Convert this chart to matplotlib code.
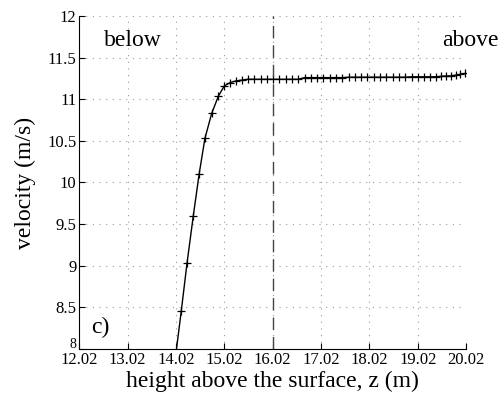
import matplotlib
matplotlib.use("Agg")
import matplotlib.pyplot as plt
import matplotlib.transforms as mtransforms

plt.rcParams['font.family'] = ['Liberation Serif', 'DejaVu Serif']

# height above the surface (m) and velocity (m/s)
z = [14.00, 14.13, 14.25, 14.38, 14.50, 14.62, 14.76, 14.90, 15.02, 15.14,
     15.26, 15.38, 15.51, 15.64, 15.77, 15.90, 16.03, 16.16, 16.29, 16.42,
     16.55, 16.68, 16.81, 16.94, 17.07, 17.20, 17.33, 17.46, 17.59, 17.72,
     17.85, 17.98, 18.11, 18.24, 18.37, 18.50, 18.63, 18.76, 18.89, 19.02,
     19.15, 19.28, 19.40, 19.50, 19.60, 19.70, 19.80, 19.90, 20.00]
vel = [7.85, 8.45, 9.03, 9.60, 10.10, 10.53, 10.83, 11.04, 11.16, 11.20,
       11.22, 11.23, 11.24, 11.24, 11.24, 11.24, 11.24, 11.24, 11.24, 11.24,
       11.24, 11.26, 11.26, 11.26, 11.26, 11.26, 11.26, 11.26, 11.265, 11.265,
       11.265, 11.265, 11.265, 11.265, 11.265, 11.265, 11.265, 11.265, 11.27, 11.27,
       11.27, 11.27, 11.27, 11.275, 11.28, 11.28, 11.29, 11.30, 11.31]

z_surface = 16.02
xticks = [12.02, 13.02, 14.02, 15.02, 16.02, 17.02, 18.02, 19.02, 20.02]
yticks = [8, 8.5, 9, 9.5, 10, 10.5, 11, 11.5, 12]

fig = plt.figure(figsize=(5.04, 4.01), dpi=100)
ax = fig.add_axes([0.157, 0.130, 0.768, 0.830])

ax.plot(z, vel, 'k-', linewidth=1.0, marker='+', markersize=6, markeredgewidth=0.9)
ax.axvline(z_surface, color='#444444', linewidth=1.0, linestyle=(0, (9, 5)))

ax.set_xlim(12.02, 20.02)
ax.set_ylim(8, 12)
ax.set_xticks(xticks)
ax.set_xticklabels(['%.2f' % t for t in xticks])
ax.set_yticks(yticks)
ax.set_yticklabels(['%g' % t for t in yticks])
ax.tick_params(direction='in', length=4, width=0.8, labelsize=12, pad=2)
ax.tick_params(axis='x', pad=2)
ax.grid(True, linestyle=(0, (1, 5)), color='#999999', linewidth=0.8)

# the lowest y label is smaller and sits higher, clear of the x labels
lab8 = ax.get_yticklabels()[0]
lab8.set_fontsize(10)
lab8.set_transform(lab8.get_transform() +
                   mtransforms.ScaledTranslation(0, 4 / 72, fig.dpi_scale_trans))

ax.spines['top'].set_visible(False)
ax.spines['right'].set_visible(False)

ax.text(13.12, 11.71, 'below', fontsize=17, ha='center', va='center')
ax.text(20.10, 11.71, 'above', fontsize=17, ha='center', va='center')
ax.text(12.45, 8.26, 'c)', fontsize=17, ha='center', va='center')

ax.set_xlabel('height above the surface, z (m)', fontsize=17, labelpad=2)
ax.set_ylabel('velocity (m/s)', fontsize=17, labelpad=8)

fig.savefig('out.png', dpi=100)
